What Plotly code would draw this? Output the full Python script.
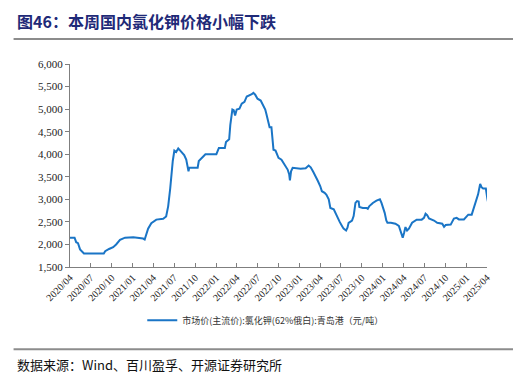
import plotly.graph_objects as go

dates = [
    "2020-04-01", "2020-04-21", "2020-04-28", "2020-05-06", "2020-05-15", "2020-05-24", "2020-06-01",
    "2020-08-27", "2020-09-02", "2020-09-19", "2020-10-07", "2020-10-20", "2020-11-06", "2020-11-28",
    "2021-01-03", "2021-02-15", "2021-02-22", "2021-03-09", "2021-03-23", "2021-04-14", "2021-05-14",
    "2021-05-27", "2021-06-05", "2021-06-14", "2021-06-18", "2021-06-25", "2021-07-02", "2021-07-10",
    "2021-07-19", "2021-07-28", "2021-08-06", "2021-08-14", "2021-08-23", "2021-08-28", "2021-09-02",
    "2021-09-05", "2021-10-12", "2021-10-17", "2021-11-01", "2021-11-15", "2022-01-02", "2022-01-13",
    "2022-02-08", "2022-02-13", "2022-02-27", "2022-03-04", "2022-03-13", "2022-03-19", "2022-03-25",
    "2022-04-01", "2022-04-13", "2022-04-23", "2022-05-05", "2022-05-15", "2022-06-06", "2022-06-13",
    "2022-06-21", "2022-07-01", "2022-07-15", "2022-07-23", "2022-08-04", "2022-08-09", "2022-08-18",
    "2022-08-23", "2022-08-31", "2022-09-05", "2022-09-09", "2022-09-18", "2022-09-27", "2022-10-01",
    "2022-10-14", "2022-10-28", "2022-11-10", "2022-11-17", "2022-11-20", "2022-11-25", "2022-12-02",
    "2023-01-06", "2023-01-28", "2023-02-10", "2023-02-19", "2023-03-02", "2023-03-13", "2023-03-23",
    "2023-04-02", "2023-04-09", "2023-04-21", "2023-04-29", "2023-05-09", "2023-05-16", "2023-05-31",
    "2023-06-10", "2023-06-18", "2023-06-26", "2023-07-06", "2023-07-13", "2023-07-24", "2023-07-30",
    "2023-08-04", "2023-08-19", "2023-08-26", "2023-09-03", "2023-09-10", "2023-09-17", "2023-09-20",
    "2023-10-05", "2023-10-21", "2023-10-27", "2023-11-03", "2023-11-18", "2023-12-04", "2023-12-19",
    "2023-12-26", "2024-01-04", "2024-01-09", "2024-01-16", "2024-01-21", "2024-02-05", "2024-02-25",
    "2024-03-11", "2024-03-18", "2024-03-28", "2024-04-03", "2024-04-09", "2024-04-16", "2024-04-24",
    "2024-05-08", "2024-05-20", "2024-05-28", "2024-06-19", "2024-06-29", "2024-07-06", "2024-07-13",
    "2024-07-21", "2024-08-12", "2024-08-26", "2024-09-17", "2024-09-25", "2024-10-02", "2024-10-24",
    "2024-11-07", "2024-11-19", "2024-11-29", "2024-12-21", "2024-12-31", "2025-01-09", "2025-01-24",
    "2025-02-08", "2025-02-21", "2025-03-02", "2025-03-08", "2025-03-15", "2025-03-27", "2025-04-03",
    "2025-04-05",
]

prices = [
    2150, 2150, 2050, 2030, 1890, 1850, 1800,
    1800, 1850, 1900, 1940, 2000, 2100, 2150,
    2160, 2130, 2110, 2350, 2470, 2550, 2570,
    2620, 2850, 3250, 3480, 3850, 4080, 4050,
    4130, 4080, 4010, 3980, 3880, 3740, 3620,
    3700, 3700, 3850, 3920, 4000, 4000, 4140,
    4140, 4270, 4330, 4650, 4990, 4975, 4860,
    4990, 5010, 5120, 5160, 5280, 5330, 5360,
    5320, 5230, 5190, 5100, 4990, 4890, 4730,
    4600, 4600, 4350, 4100, 4080, 3990, 3920,
    3880, 3750, 3660, 3550, 3420, 3620, 3700,
    3680, 3690, 3750, 3710, 3610, 3510, 3400,
    3290, 3180, 3145, 3100, 3000, 2810, 2780,
    2660, 2590, 2500, 2410, 2350, 2310, 2370,
    2480, 2530, 2630, 2920, 2960, 2950, 2830,
    2810, 2810, 2790, 2850, 2920, 2970, 3000,
    2920, 2800, 2700, 2530, 2480, 2480, 2460,
    2410, 2300, 2150, 2260, 2385, 2310, 2350,
    2480, 2520, 2550, 2550, 2590, 2680, 2650,
    2575, 2530, 2480, 2460, 2390, 2430, 2440,
    2575, 2590, 2555, 2555, 2610, 2660, 2660,
    2920, 3110, 3340, 3270, 3240, 3240, 3000,
    2950,
]

tick_dates = [
    "2020-04-01", "2020-07-01", "2020-10-01", "2021-01-01", "2021-04-01", "2021-07-01", "2021-10-01",
    "2022-01-01", "2022-04-01", "2022-07-01", "2022-10-01", "2023-01-01", "2023-04-01", "2023-07-01",
    "2023-10-01", "2024-01-01", "2024-04-01", "2024-07-01", "2024-10-01", "2025-01-01", "2025-04-01",
]
tick_labels = [
    "2020/04", "2020/07", "2020/10", "2021/01", "2021/04", "2021/07", "2021/10",
    "2022/01", "2022/04", "2022/07", "2022/10", "2023/01", "2023/04", "2023/07",
    "2023/10", "2024/01", "2024/04", "2024/07", "2024/10", "2025/01", "2025/04",
]

series_name = "市场价(主流价):氯化钾(62%俄白):青岛港（元/吨）"
title_text = "图46：本周国内氯化钾价格小幅下跌"
source_text = "数据来源：Wind、百川盈孚、开源证券研究所"

W, H = 521, 373
L, R, T, B = 61.5, 479, 56, 259.5

fig = go.Figure()
fig.add_trace(go.Scatter(
    x=dates, y=prices, mode="lines", name=series_name,
    line=dict(color="#1A75C6", width=2),
))

serif = "Liberation Serif, serif"
cjk = "Noto Sans CJK SC"

fig.update_layout(
    width=W, height=H,
    margin=dict(l=L, r=W - R, t=T, b=H - B, pad=0),
    paper_bgcolor="white", plot_bgcolor="white",
    showlegend=True,
    legend=dict(
        orientation="h", x=(257 - L) / (R - L), xanchor="center",
        y=(B - 313) / (B - T), yanchor="middle",
        font=dict(family=cjk, size=9, color="#333333"),
        bgcolor="rgba(0,0,0,0)", itemwidth=30,
    ),
    xaxis=dict(
        type="date", range=["2020-04-01", "2025-04-01"],
        tickmode="array", tickvals=tick_dates, ticktext=tick_labels,
        tickangle=-45, ticks="inside", ticklen=4, tickcolor="#7f7f7f",
        showline=True, linecolor="#7f7f7f", linewidth=1,
        showgrid=False, zeroline=False,
        tickfont=dict(family=serif, size=10, color="#222222"),
    ),
    yaxis=dict(
        range=[1500, 6000], dtick=500, tickformat=",",
        ticks="outside", ticklen=4, tickcolor="#7f7f7f",
        showline=True, linecolor="#7f7f7f", linewidth=1,
        showgrid=False, zeroline=False,
        tickfont=dict(family=serif, size=11, color="#222222"),
    ),
    annotations=[
        dict(text="<b>" + title_text + "</b>", xref="paper", yref="paper",
             x=-L / (R - L) + 6 / (R - L), y=(B - 13) / (B - T),
             xanchor="left", yanchor="middle", showarrow=False,
             font=dict(family=cjk, size=16, color="#1F2A78")),
        dict(text=source_text, xref="paper", yref="paper",
             x=-L / (R - L) + 6 / (R - L), y=(B - 357) / (B - T),
             xanchor="left", yanchor="middle", showarrow=False,
             font=dict(family=cjk, size=13, color="#111111")),
    ],
    shapes=[
        dict(type="line", xref="paper", yref="paper",
             x0=-(L - 5) / (R - L), x1=(516 - L) / (R - L),
             y0=(B - 31) / (B - T), y1=(B - 31) / (B - T),
             line=dict(color="#8c8c8c", width=2)),
        dict(type="line", xref="paper", yref="paper",
             x0=-(L - 5) / (R - L), x1=(516 - L) / (R - L),
             y0=(B - 342) / (B - T), y1=(B - 342) / (B - T),
             line=dict(color="#8c8c8c", width=2)),
    ],
)

fig.write_html("out.html")
